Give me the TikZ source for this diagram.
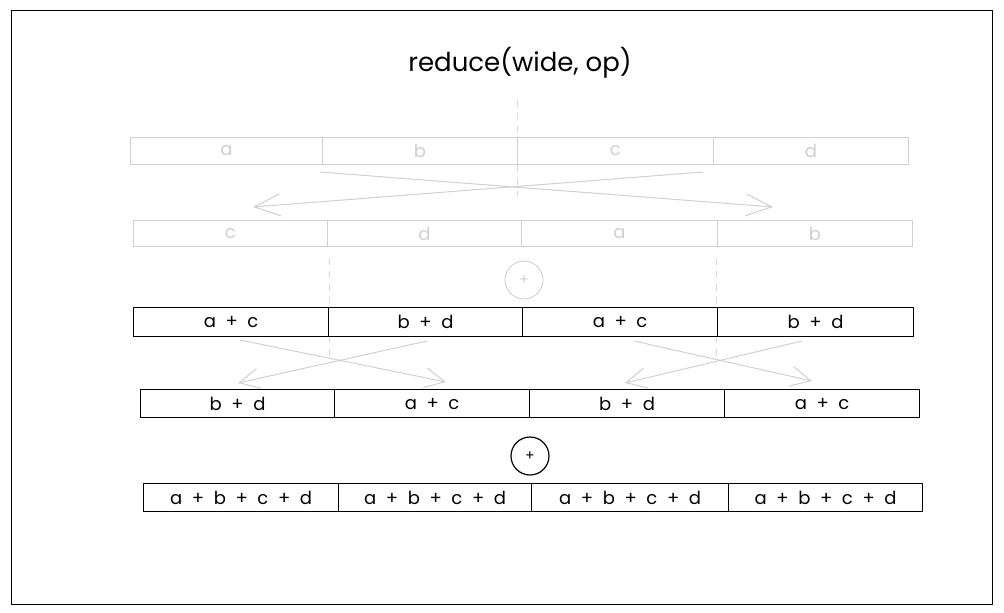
\documentclass[tikz,border=0pt]{standalone}
\usepackage{fontspec}
\setmainfont{Poppins}[WordSpace=2.0]
\newfontfamily\titlefont{Poppins}
\usetikzlibrary{arrows.meta}
\definecolor{faint}{HTML}{D0D0D0}
\definecolor{faintdash}{HTML}{DADADA}
\begin{document}
\begin{tikzpicture}[x=1pt,y=-1pt,
  cell/.style={draw, anchor=north west, inner sep=0pt, line width=1.2pt,
    font=\fontsize{18}{18}\selectfont},
  ghost/.style={cell, draw=faint, text=faint, line width=0.9pt},
  swap/.style={draw=faint, line width=1pt, -{Straight Barb[length=26pt,width=22pt]}},
  swapsm/.style={draw=faint, line width=1pt, -{Straight Barb[length=20pt,width=20pt]}},
  guide/.style={draw=faintdash, line width=1pt, dash pattern=on 7pt off 6pt},
  opcirc/.style={draw, circle, minimum size=38pt, inner sep=0pt, line width=1.2pt,
    font=\fontsize{14}{14}\selectfont}]
\useasboundingbox (0,0) rectangle (1004,613);
\node[draw, line width=1.2pt, anchor=north west, minimum width=981pt, minimum height=594pt, inner sep=0pt] (frame) at (11,9.5) {};
\node[font=\titlefont\fontsize{26}{26}\selectfont] (title) at (520,63) {reduce(wide, op)};

% guides (behind boxes)
\coordinate (g1t) at (517,100); \coordinate (g1b) at (517,196);
\coordinate (g2t) at (329,258); \coordinate (g2b) at (329,358);
\coordinate (g3t) at (716,258); \coordinate (g3b) at (716,358);
\draw[guide] (g1t) -- (g1b);
\draw[guide] (g2t) -- (g2b);
\draw[guide] (g3t) -- (g3b);

% row 1
\node[ghost, minimum width=192pt, minimum height=27pt, fill=white] (r1a) at (130,137) {a};
\node[ghost, minimum width=195pt, minimum height=27pt, fill=white] (r1b) at (322,137) {b};
\node[ghost, minimum width=196pt, minimum height=27pt, fill=white] (r1c) at (517,137) {c};
\node[ghost, minimum width=195pt, minimum height=27pt, fill=white] (r1d) at (713,137) {d};

% swap arrows row1 -> row2
\coordinate (s1a) at (320,172); \coordinate (s1b) at (773,207);
\coordinate (s2a) at (703,172); \coordinate (s2b) at (253,207);
\draw[swap] (s1a) -- (s1b);
\draw[swap] (s2a) -- (s2b);

% row 2
\node[ghost, minimum width=194pt, minimum height=26pt] (r2a) at (133,220) {c};
\node[ghost, minimum width=194pt, minimum height=26pt] (r2b) at (327,220) {d};
\node[ghost, minimum width=196pt, minimum height=26pt] (r2c) at (521,220) {a};
\node[ghost, minimum width=195pt, minimum height=26pt] (r2d) at (717,220) {b};

\node[opcirc, draw=faint, text=faint, line width=0.9pt] (op1) at (524,280) {+};

% row 3
\node[cell, minimum width=195pt, minimum height=29pt, fill=white] (r3a) at (133,307) {a + c};
\node[cell, minimum width=194pt, minimum height=29pt, fill=white] (r3b) at (328,307) {b + d};
\node[cell, minimum width=195pt, minimum height=29pt, fill=white] (r3c) at (522,307) {a + c};
\node[cell, minimum width=196pt, minimum height=29pt, fill=white] (r3d) at (717,307) {b + d};

% swap arrows row3 -> row4
\coordinate (t1a) at (240,340); \coordinate (t1b) at (446,382);
\coordinate (t2a) at (427,341); \coordinate (t2b) at (238,383);
\coordinate (t3a) at (634,341); \coordinate (t3b) at (812,381);
\coordinate (t4a) at (802,341); \coordinate (t4b) at (625,383);
\draw[swapsm] (t1a) -- (t1b);
\draw[swapsm] (t2a) -- (t2b);
\draw[swapsm] (t3a) -- (t3b);
\draw[swapsm] (t4a) -- (t4b);

% row 4
\node[cell, minimum width=194pt, minimum height=28pt] (r4a) at (140,389) {b + d};
\node[cell, minimum width=195pt, minimum height=28pt] (r4b) at (334,389) {a + c};
\node[cell, minimum width=195pt, minimum height=28pt] (r4c) at (529,389) {b + d};
\node[cell, minimum width=195pt, minimum height=28pt] (r4d) at (724,389) {a + c};

\node[opcirc] (op2) at (530,456) {+};

% row 5
\node[cell, minimum width=195pt, minimum height=28pt] (r5a) at (143,483) {a + b + c + d};
\node[cell, minimum width=193pt, minimum height=28pt] (r5b) at (338,483) {a + b + c + d};
\node[cell, minimum width=197pt, minimum height=28pt] (r5c) at (531,483) {a + b + c + d};
\node[cell, minimum width=194pt, minimum height=28pt] (r5d) at (728,483) {a + b + c + d};
\end{tikzpicture}
\end{document}
